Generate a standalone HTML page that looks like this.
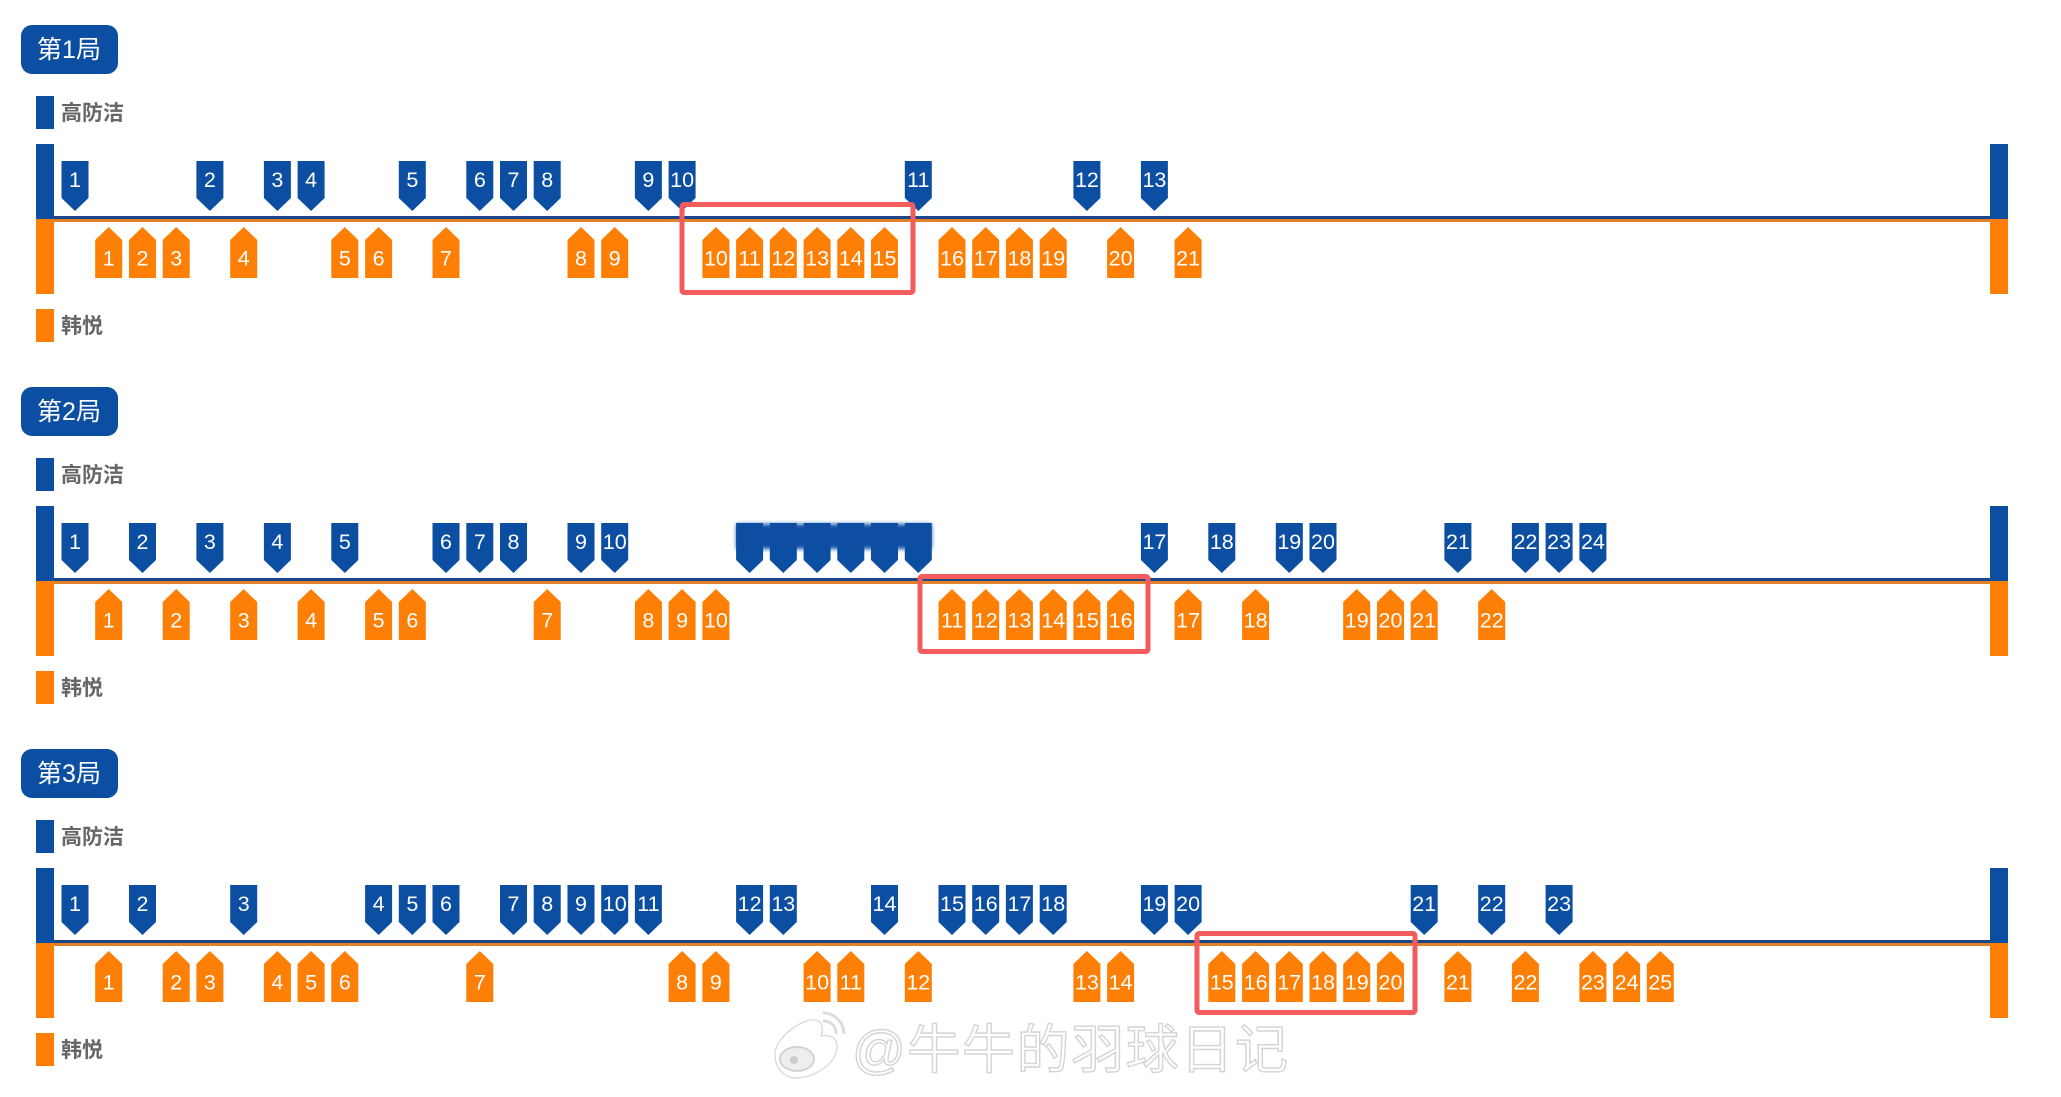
<!DOCTYPE html>
<html><head><meta charset="utf-8"><style>
html,body{margin:0;padding:0;background:#fff}
svg{display:block}
text{font-family:"Liberation Sans","Noto Sans CJK SC",sans-serif}
.n text{font-size:21.5px;fill:#fff;text-anchor:middle}
.tt{font-size:25px;fill:#fff;text-anchor:middle}
.lg{font-size:21px;font-weight:bold;fill:#666}
</style></head><body>
<svg width="2061" height="1097" viewBox="0 0 2061 1097" xmlns="http://www.w3.org/2000/svg">
<defs>
<polygon id="b" points="-13.5,161 13.5,161 13.5,198 0,211 -13.5,198" fill="#0b4ea2"/>
<polygon id="o" points="0,227 13.5,240 13.5,278 -13.5,278 -13.5,240" fill="#fd7f05"/>
<g id="frame">
<rect x="21" y="25" width="97" height="49" rx="11" fill="#0b4ea2"/>
<rect x="36" y="96" width="18" height="33" fill="#0b4ea2"/>
<text class="lg" x="61" y="120">高防洁</text>
<rect x="36" y="144" width="18" height="75" fill="#0b4ea2"/>
<rect x="36" y="219" width="18" height="75" fill="#fd7f05"/>
<rect x="1990" y="144" width="18" height="75" fill="#0b4ea2"/>
<rect x="1990" y="219" width="18" height="75" fill="#fd7f05"/>
<rect x="54" y="216" width="1936" height="3" fill="#1b4687"/>
<rect x="54" y="219" width="1936" height="3" fill="#e0822b"/>
<rect x="36" y="309" width="18" height="33" fill="#fd7f05"/>
<text class="lg" x="61" y="333">韩悦</text>
</g>
<filter id="blur" x="-5%" y="-30%" width="110%" height="160%"><feGaussianBlur stdDeviation="2"/></filter>
</defs>

<!-- Game 1 -->
<g>
<use href="#frame"/>
<text class="tt" x="69" y="58">第1局</text>
<g transform="translate(0.5,0)">
<use href="#b" x="74.5"/><use href="#b" x="209.4"/><use href="#b" x="276.9"/><use href="#b" x="310.6"/><use href="#b" x="411.8"/><use href="#b" x="479.3"/><use href="#b" x="513"/><use href="#b" x="546.7"/><use href="#b" x="647.9"/><use href="#b" x="681.6"/><use href="#b" x="917.8"/><use href="#b" x="1086.4"/><use href="#b" x="1153.9"/>
<g class="n" transform="translate(0,187.2)"><text x="74.5">1</text><text x="209.4">2</text><text x="276.9">3</text><text x="310.6">4</text><text x="411.8">5</text><text x="479.3">6</text><text x="513">7</text><text x="546.7">8</text><text x="647.9">9</text><text x="681.6">10</text><text x="917.8">11</text><text x="1086.4">12</text><text x="1153.9">13</text></g>
<use href="#o" x="108.2"/><use href="#o" x="142"/><use href="#o" x="175.7"/><use href="#o" x="243.2"/><use href="#o" x="344.3"/><use href="#o" x="378.1"/><use href="#o" x="445.5"/><use href="#o" x="580.5"/><use href="#o" x="614.2"/><use href="#o" x="715.4"/><use href="#o" x="749.1"/><use href="#o" x="782.8"/><use href="#o" x="816.6"/><use href="#o" x="850.3"/><use href="#o" x="884"/><use href="#o" x="951.5"/><use href="#o" x="985.2"/><use href="#o" x="1018.9"/><use href="#o" x="1052.7"/><use href="#o" x="1120.1"/><use href="#o" x="1187.6"/>
<g class="n" transform="translate(0,265.7)"><text x="108.2">1</text><text x="142">2</text><text x="175.7">3</text><text x="243.2">4</text><text x="344.3">5</text><text x="378.1">6</text><text x="445.5">7</text><text x="580.5">8</text><text x="614.2">9</text><text x="715.4">10</text><text x="749.1">11</text><text x="782.8">12</text><text x="816.6">13</text><text x="850.3">14</text><text x="884">15</text><text x="951.5">16</text><text x="985.2">17</text><text x="1018.9">18</text><text x="1052.7">19</text><text x="1120.1">20</text><text x="1187.6">21</text></g>
</g>
<rect x="682" y="204.5" width="231" height="88" rx="2" fill="none" stroke="#f25c5c" stroke-width="5"/>
</g>

<!-- Game 2 -->
<g transform="translate(0,362)">
<use href="#frame"/>
<text class="tt" x="69" y="58">第2局</text>
<g transform="translate(0.5,0)">
<use href="#b" x="74.5"/><use href="#b" x="142"/><use href="#b" x="209.4"/><use href="#b" x="276.9"/><use href="#b" x="344.3"/><use href="#b" x="445.5"/><use href="#b" x="479.3"/><use href="#b" x="513"/><use href="#b" x="580.5"/><use href="#b" x="614.2"/>
<use href="#b" x="749.1"/><use href="#b" x="782.8"/><use href="#b" x="816.6"/><use href="#b" x="850.3"/><use href="#b" x="884"/><use href="#b" x="917.8"/>
<rect x="736" y="162" width="195" height="25" fill="#0b4ea2" filter="url(#blur)"/>
<use href="#b" x="1153.9"/><use href="#b" x="1221.3"/><use href="#b" x="1288.8"/><use href="#b" x="1322.5"/><use href="#b" x="1457.4"/><use href="#b" x="1524.9"/><use href="#b" x="1558.6"/><use href="#b" x="1592.4"/>
<g class="n" transform="translate(0,187.2)"><text x="74.5">1</text><text x="142">2</text><text x="209.4">3</text><text x="276.9">4</text><text x="344.3">5</text><text x="445.5">6</text><text x="479.3">7</text><text x="513">8</text><text x="580.5">9</text><text x="614.2">10</text><text x="1153.9">17</text><text x="1221.3">18</text><text x="1288.8">19</text><text x="1322.5">20</text><text x="1457.4">21</text><text x="1524.9">22</text><text x="1558.6">23</text><text x="1592.4">24</text></g>
<use href="#o" x="108.2"/><use href="#o" x="175.7"/><use href="#o" x="243.2"/><use href="#o" x="310.6"/><use href="#o" x="378.1"/><use href="#o" x="411.8"/><use href="#o" x="546.7"/><use href="#o" x="647.9"/><use href="#o" x="681.6"/><use href="#o" x="715.4"/><use href="#o" x="951.5"/><use href="#o" x="985.2"/><use href="#o" x="1018.9"/><use href="#o" x="1052.7"/><use href="#o" x="1086.4"/><use href="#o" x="1120.1"/><use href="#o" x="1187.6"/><use href="#o" x="1255.1"/><use href="#o" x="1356.2"/><use href="#o" x="1390"/><use href="#o" x="1423.7"/><use href="#o" x="1491.2"/>
<g class="n" transform="translate(0,265.7)"><text x="108.2">1</text><text x="175.7">2</text><text x="243.2">3</text><text x="310.6">4</text><text x="378.1">5</text><text x="411.8">6</text><text x="546.7">7</text><text x="647.9">8</text><text x="681.6">9</text><text x="715.4">10</text><text x="951.5">11</text><text x="985.2">12</text><text x="1018.9">13</text><text x="1052.7">14</text><text x="1086.4">15</text><text x="1120.1">16</text><text x="1187.6">17</text><text x="1255.1">18</text><text x="1356.2">19</text><text x="1390">20</text><text x="1423.7">21</text><text x="1491.2">22</text></g>
</g>
<rect x="920" y="214.5" width="228" height="75" rx="2" fill="none" stroke="#f25c5c" stroke-width="5"/>
</g>

<!-- Game 3 -->
<g transform="translate(0,724)">
<use href="#frame"/>
<text class="tt" x="69" y="58">第3局</text>
<g transform="translate(0.5,0)">
<use href="#b" x="74.5"/><use href="#b" x="142"/><use href="#b" x="243.2"/><use href="#b" x="378.1"/><use href="#b" x="411.8"/><use href="#b" x="445.5"/><use href="#b" x="513"/><use href="#b" x="546.7"/><use href="#b" x="580.5"/><use href="#b" x="614.2"/><use href="#b" x="647.9"/><use href="#b" x="749.1"/><use href="#b" x="782.8"/><use href="#b" x="884"/><use href="#b" x="951.5"/><use href="#b" x="985.2"/><use href="#b" x="1018.9"/><use href="#b" x="1052.7"/><use href="#b" x="1153.9"/><use href="#b" x="1187.6"/><use href="#b" x="1423.7"/><use href="#b" x="1491.2"/><use href="#b" x="1558.6"/>
<g class="n" transform="translate(0,187.2)"><text x="74.5">1</text><text x="142">2</text><text x="243.2">3</text><text x="378.1">4</text><text x="411.8">5</text><text x="445.5">6</text><text x="513">7</text><text x="546.7">8</text><text x="580.5">9</text><text x="614.2">10</text><text x="647.9">11</text><text x="749.1">12</text><text x="782.8">13</text><text x="884">14</text><text x="951.5">15</text><text x="985.2">16</text><text x="1018.9">17</text><text x="1052.7">18</text><text x="1153.9">19</text><text x="1187.6">20</text><text x="1423.7">21</text><text x="1491.2">22</text><text x="1558.6">23</text></g>
<use href="#o" x="108.2"/><use href="#o" x="175.7"/><use href="#o" x="209.4"/><use href="#o" x="276.9"/><use href="#o" x="310.6"/><use href="#o" x="344.3"/><use href="#o" x="479.3"/><use href="#o" x="681.6"/><use href="#o" x="715.4"/><use href="#o" x="816.6"/><use href="#o" x="850.3"/><use href="#o" x="917.8"/><use href="#o" x="1086.4"/><use href="#o" x="1120.1"/><use href="#o" x="1221.3"/><use href="#o" x="1255.1"/><use href="#o" x="1288.8"/><use href="#o" x="1322.5"/><use href="#o" x="1356.2"/><use href="#o" x="1390"/><use href="#o" x="1457.4"/><use href="#o" x="1524.9"/><use href="#o" x="1592.4"/><use href="#o" x="1626.1"/><use href="#o" x="1659.8"/>
<g class="n" transform="translate(0,265.7)"><text x="108.2">1</text><text x="175.7">2</text><text x="209.4">3</text><text x="276.9">4</text><text x="310.6">5</text><text x="344.3">6</text><text x="479.3">7</text><text x="681.6">8</text><text x="715.4">9</text><text x="816.6">10</text><text x="850.3">11</text><text x="917.8">12</text><text x="1086.4">13</text><text x="1120.1">14</text><text x="1221.3">15</text><text x="1255.1">16</text><text x="1288.8">17</text><text x="1322.5">18</text><text x="1356.2">19</text><text x="1390">20</text><text x="1457.4">21</text><text x="1524.9">22</text><text x="1592.4">23</text><text x="1626.1">24</text><text x="1659.8">25</text></g>
</g>
<rect x="1197" y="209.5" width="218" height="79" rx="2" fill="none" stroke="#f25c5c" stroke-width="5"/>
</g>

<!-- Watermark -->
<g>
<path d="M775,1057 C773,1042 793,1024 810,1020 C822,1018 824,1028 821,1036 C832,1034 840,1040 836,1052 C832,1068 810,1078 796,1078 C784,1078 776,1068 775,1057 Z" fill="#fff" stroke="#ddd" stroke-width="1.5"/>
<ellipse cx="797" cy="1059" rx="17" ry="12" fill="#eee" stroke="#d2d2d2" stroke-width="2"/>
<circle cx="794" cy="1060" r="4" fill="#ccc"/>
<path d="M823,1021 A12,12 0 0 1 836,1034 M823,1013 A21,21 0 0 1 844,1034" fill="none" stroke="#ddd" stroke-width="3"/>
<text x="852" y="1068" style="font-size:53px;letter-spacing:1.6px;fill:#fff;stroke:#d4d4d4;stroke-width:1.4px;font-family:'Liberation Sans','Noto Sans CJK SC',sans-serif">@牛牛的羽球日记</text>
</g>
</svg>
</body></html>
